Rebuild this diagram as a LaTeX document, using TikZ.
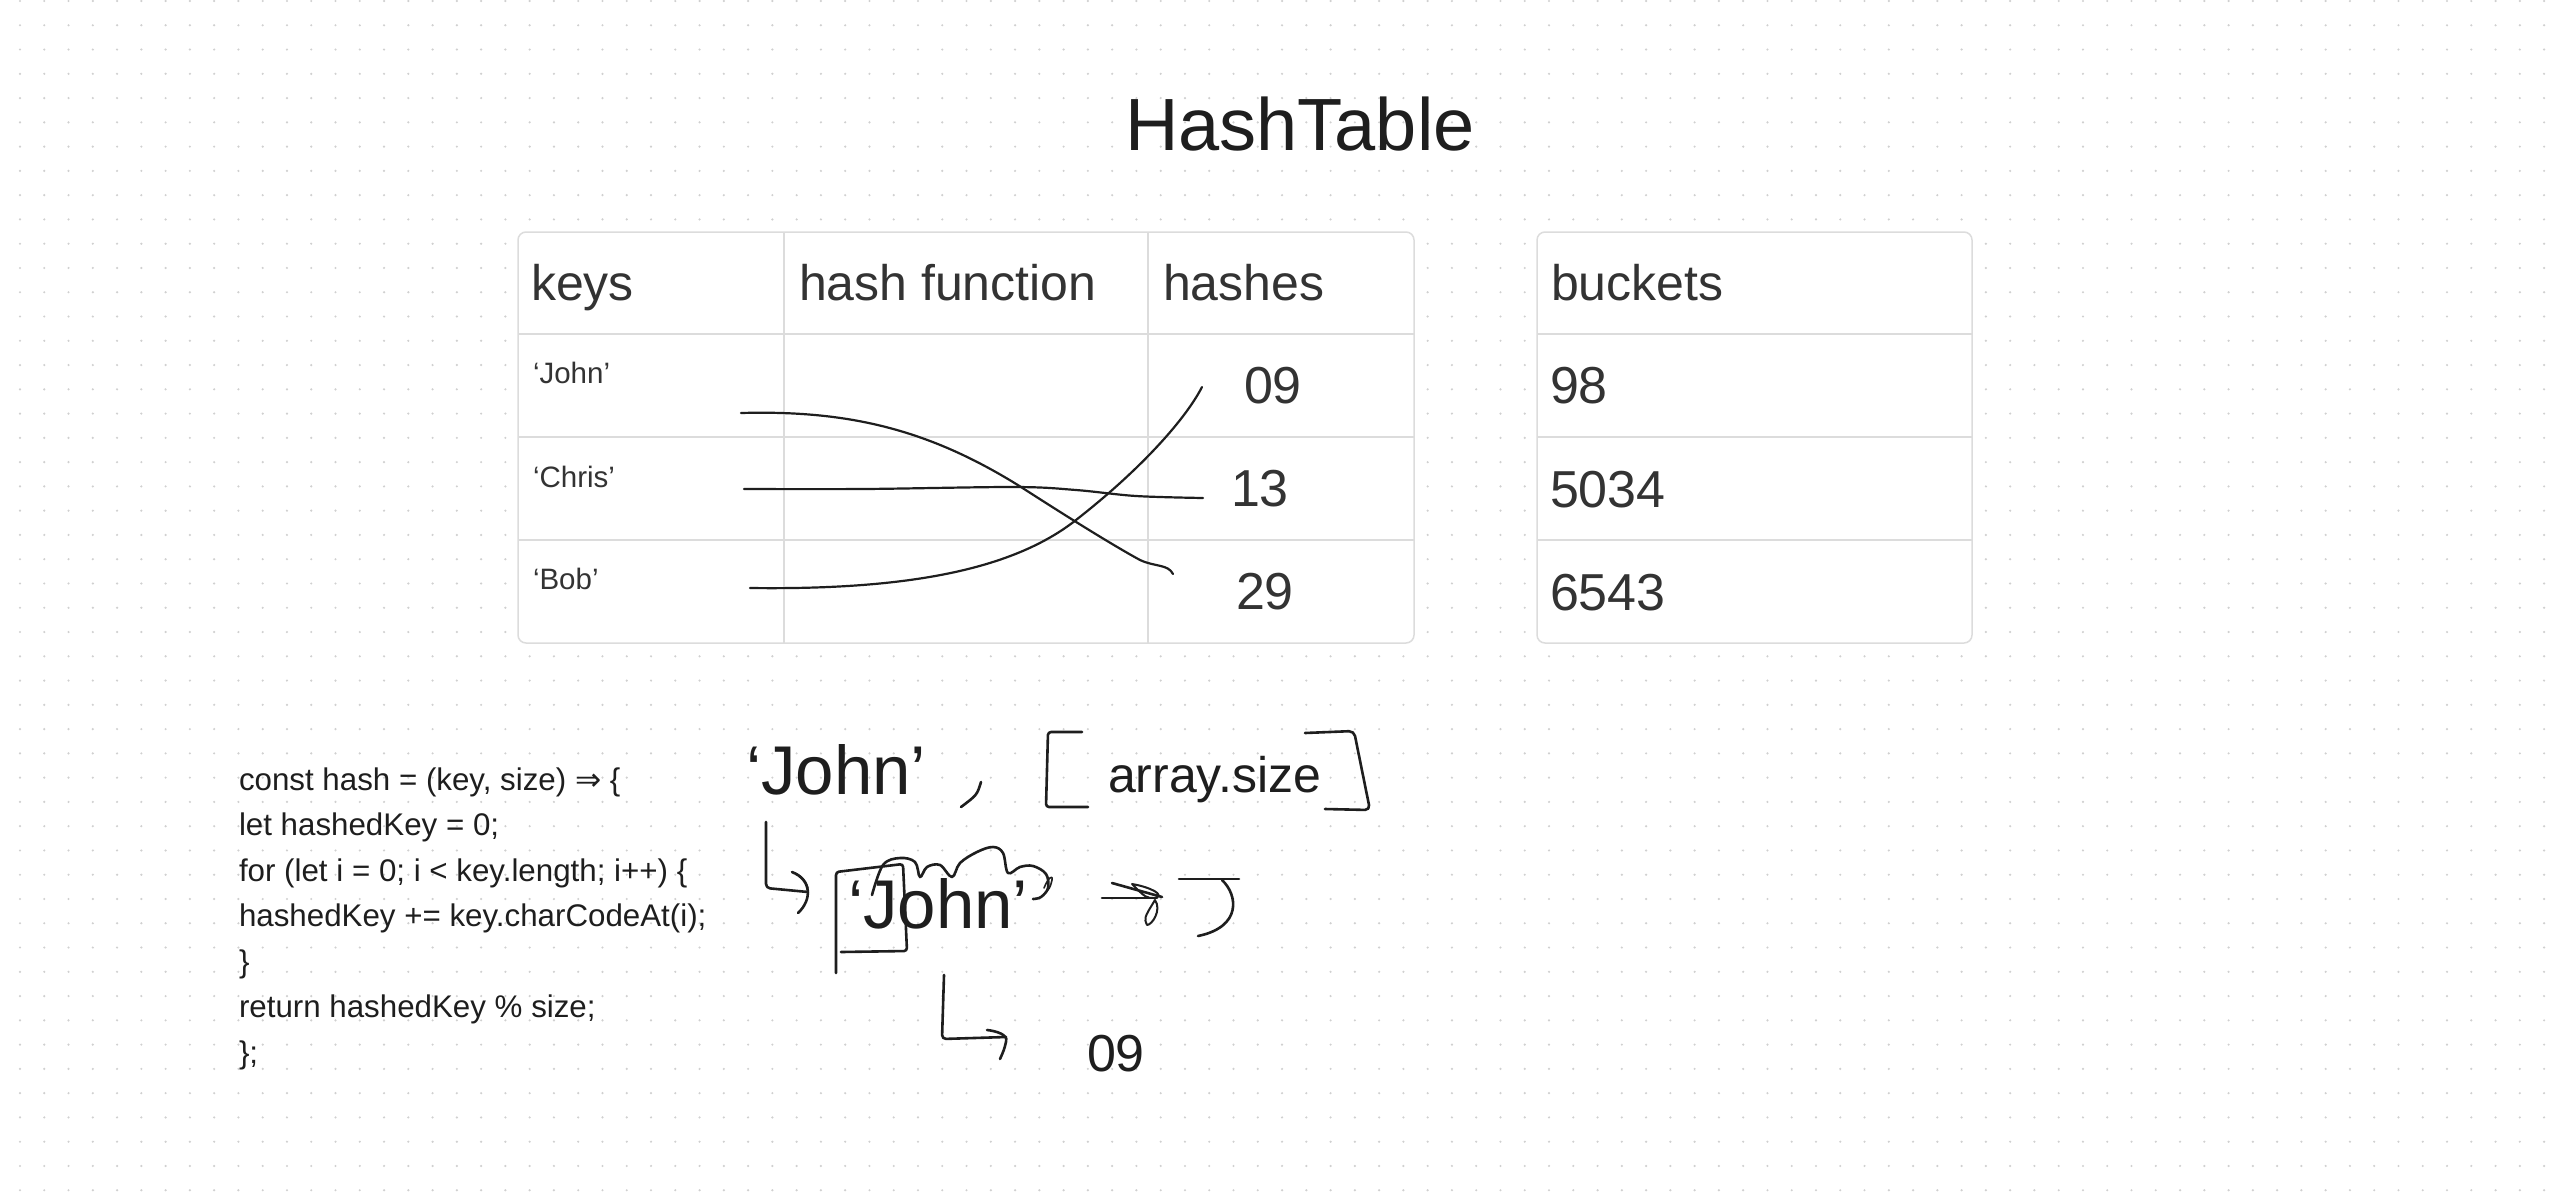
\documentclass[tikz,border=0pt]{standalone}
\usepackage{fontspec}
\setmainfont{Liberation Sans}
\newfontfamily\dejavu{DejaVu Sans}
\definecolor{ink}{HTML}{1E1E1E}
\definecolor{cell}{HTML}{333333}
\definecolor{rulec}{HTML}{DCDCDC}
\definecolor{dotc}{HTML}{D0D0D0}
\tikzset{
  txt/.style={anchor=base west, inner sep=0pt, outer sep=0pt},
  hdr/.style={txt, text=cell, font=\fontsize{50}{60}\selectfont},
  digit/.style={txt, text=cell, font=\fontsize{52}{60}\selectfont},
  keytxt/.style={txt, text=cell, font=\fontsize{29.5}{34}\selectfont},
  codetxt/.style={txt, text=ink, font=\fontsize{31.3}{36}\selectfont},
  bigtxt/.style={txt, text=ink, font=\fontsize{69}{76}\selectfont},
  tbl/.style={fill=white, draw=rulec, line width=1.5pt, rounded corners=8pt},
  tblrule/.style={draw=rulec, line width=1.5pt},
  conn/.style={draw=ink, line width=2.2pt, line cap=round, line join=round},
  sk/.style={draw=ink, line width=2.6pt, line cap=round, line join=round},
}
\begin{document}
\begin{tikzpicture}[x=1pt,y=-1pt]
\useasboundingbox (0,0) rectangle (2554,1192);
\fill[white] (0,0) rectangle (2554,1192);
% dot grid
\foreach \j in {0,...,49} {
  \fill[dotc] \foreach \i in {0,...,104} { (20+24.27*\i, 1+24.27*\j) circle[radius=1.2] };
}

% title
\node[txt, text=ink, font=\fontsize{74}{80}\selectfont] (title) at (1125,150) {HashTable};

% table 1
\path[tbl] (518,232) rectangle (1414,643);
\draw[tblrule] (518,334) -- (1414,334);
\draw[tblrule] (518,437) -- (1414,437);
\draw[tblrule] (518,540) -- (1414,540);
\draw[tblrule] (784,232) -- (784,643);
\draw[tblrule] (1148,232) -- (1148,643);

\node[hdr] (hkeys) at (531,300) {keys};
\node[hdr] (hfun) at (799,300) {hash function};
\node[hdr] (hhash) at (1163,300) {hashes};

\node[keytxt] (kjohn) at (533,383) {‘John’};
\node[keytxt] (kchris) at (533,487) {‘Chris’};
\node[keytxt] (kbob) at (533,589) {‘Bob’};

\node[digit] (h09) at (1244,403) {09};
\node[digit] (h13) at (1231,506) {13};
\node[digit] (h29) at (1236,609) {29};

% table 2
\path[tbl] (1537,232) rectangle (1972,643);
\draw[tblrule] (1537,334) -- (1972,334);
\draw[tblrule] (1537,437) -- (1972,437);
\draw[tblrule] (1537,540) -- (1972,540);
\node[hdr] (hbuck) at (1551,300) {buckets};
\node[digit] (b98) at (1550,403) {98};
\node[digit] (b5034) at (1550,507) {5034};
\node[digit] (b6543) at (1550,610) {6543};

% mapping curves
\coordinate (cjs) at (741,413);
\coordinate (cje) at (1173,574);
\coordinate (ccs) at (744,489);
\coordinate (cce) at (1203,498);
\coordinate (cbs) at (750,588);
\coordinate (cbe) at (1202,387);
\draw[conn] (cjs) .. controls (850,410) and (930,430) .. (1021,487)
  .. controls (1080,525) and (1118,548) .. (1140,560)
  .. controls (1155,567) and (1168,564) .. (cje);
\draw[conn] plot[smooth, tension=0.55] coordinates {(ccs) (864,489) (1015,487) (1076,490) (1136,496) (cce)};
\draw[conn] (cbs) .. controls (900,590) and (1010,572) .. (1076,520)
  .. controls (1140,470) and (1185,420) .. (cbe);

% code
\node[codetxt] (code1) at (239,790) {const hash = (key, size) {\dejavu ⇒} \{};
\node[codetxt] (code2) at (239,835.5) {let hashedKey = 0;};
\node[codetxt] (code3) at (239,881) {for (let i = 0; i < key.length; i++) \{};
\node[codetxt] (code4) at (239,926.5) {hashedKey += key.charCodeAt(i);};
\node[codetxt] (code5) at (239,972) {\}};
\node[codetxt] (code6) at (239,1017.5) {return hashedKey \% size;};
\node[codetxt] (code7) at (239,1063) {\};};

% sketch
\node[bigtxt] (john1) at (746,794) {‘John’};
\node[txt, text=ink, font=\fontsize{50}{56}\selectfont] (asize) at (1108,792) {array.size};
\node[bigtxt] (john2) at (848,928) {‘John’};
\node[digit, text=ink] (res) at (1087,1071) {09};

% comma
\draw[sk] (981,782) .. controls (977,795) .. (961,807);
% brackets
\draw[sk, rounded corners=3pt] (1082,732) -- (1048,732) -- (1046,807) -- (1088,807);
\draw[sk, rounded corners=5pt] (1305,733) -- (1354,731) -- (1370,810) -- (1325,809);
% L-arrow 1
\coordinate (a1s) at (766,822);
\coordinate (a1e) at (808,892);
\draw[sk, rounded corners=4pt] (a1s) -- (766,888) -- (a1e);
\draw[sk] (792,872) .. controls (812,880) and (812,900) .. (798,913);
\draw[sk, line width=1.4pt] (792,872) .. controls (800,874) and (806,880) .. (808,888);
% box on J
\draw[sk, rounded corners=3pt] (836,973) -- (836,872) -- (903,864) -- (907,951) -- (841,952);
% cloud scribble
\draw[sk] plot[smooth, tension=0.6] coordinates {(872,895) (883,865) (900,858) (915,862) (920,877) (927,867) (940,865) (952,877) (960,863) (977,852) (993,847) (1003,853) (1008,873) (1020,867) (1033,866) (1046,874) (1048,888) (1041,897) (1033,899)};
\draw[sk, line width=1.6pt] (1044,888) .. controls (1048,878) and (1053,874) .. (1052,880) .. controls (1050,888) .. (1044,894);
% scribbled arrow
\coordinate (a3s) at (1102,898);
\coordinate (a3e) at (1157,898);
\draw[sk] (a3s) -- (a3e);
\draw[sk] (1112,883) -- (1162,897);
\draw[sk, line width=2pt] (1132,884) .. controls (1150,887) and (1166,895) .. (1155,898) .. controls (1146,898) .. (1132,884);
\draw[sk, line width=2pt] (1155,900) .. controls (1162,910) and (1152,925) .. (1147,925) .. controls (1144,918) .. (1155,900);
% hanging bracket
\draw[sk] (1179,879) -- (1239,879);
\draw[sk] (1222,880) .. controls (1238,895) and (1242,927) .. (1198,936);
% L-arrow 2
\coordinate (a2s) at (944,975);
\coordinate (a2e) at (1006,1037);
\draw[sk, rounded corners=4pt] (a2s) -- (942,1039) -- (a2e);
\draw[sk] (987,1030) .. controls (1004,1032) and (1008,1038) .. (1006,1042) .. controls (1004,1050) .. (1000,1059);
\end{tikzpicture}
\end{document}
